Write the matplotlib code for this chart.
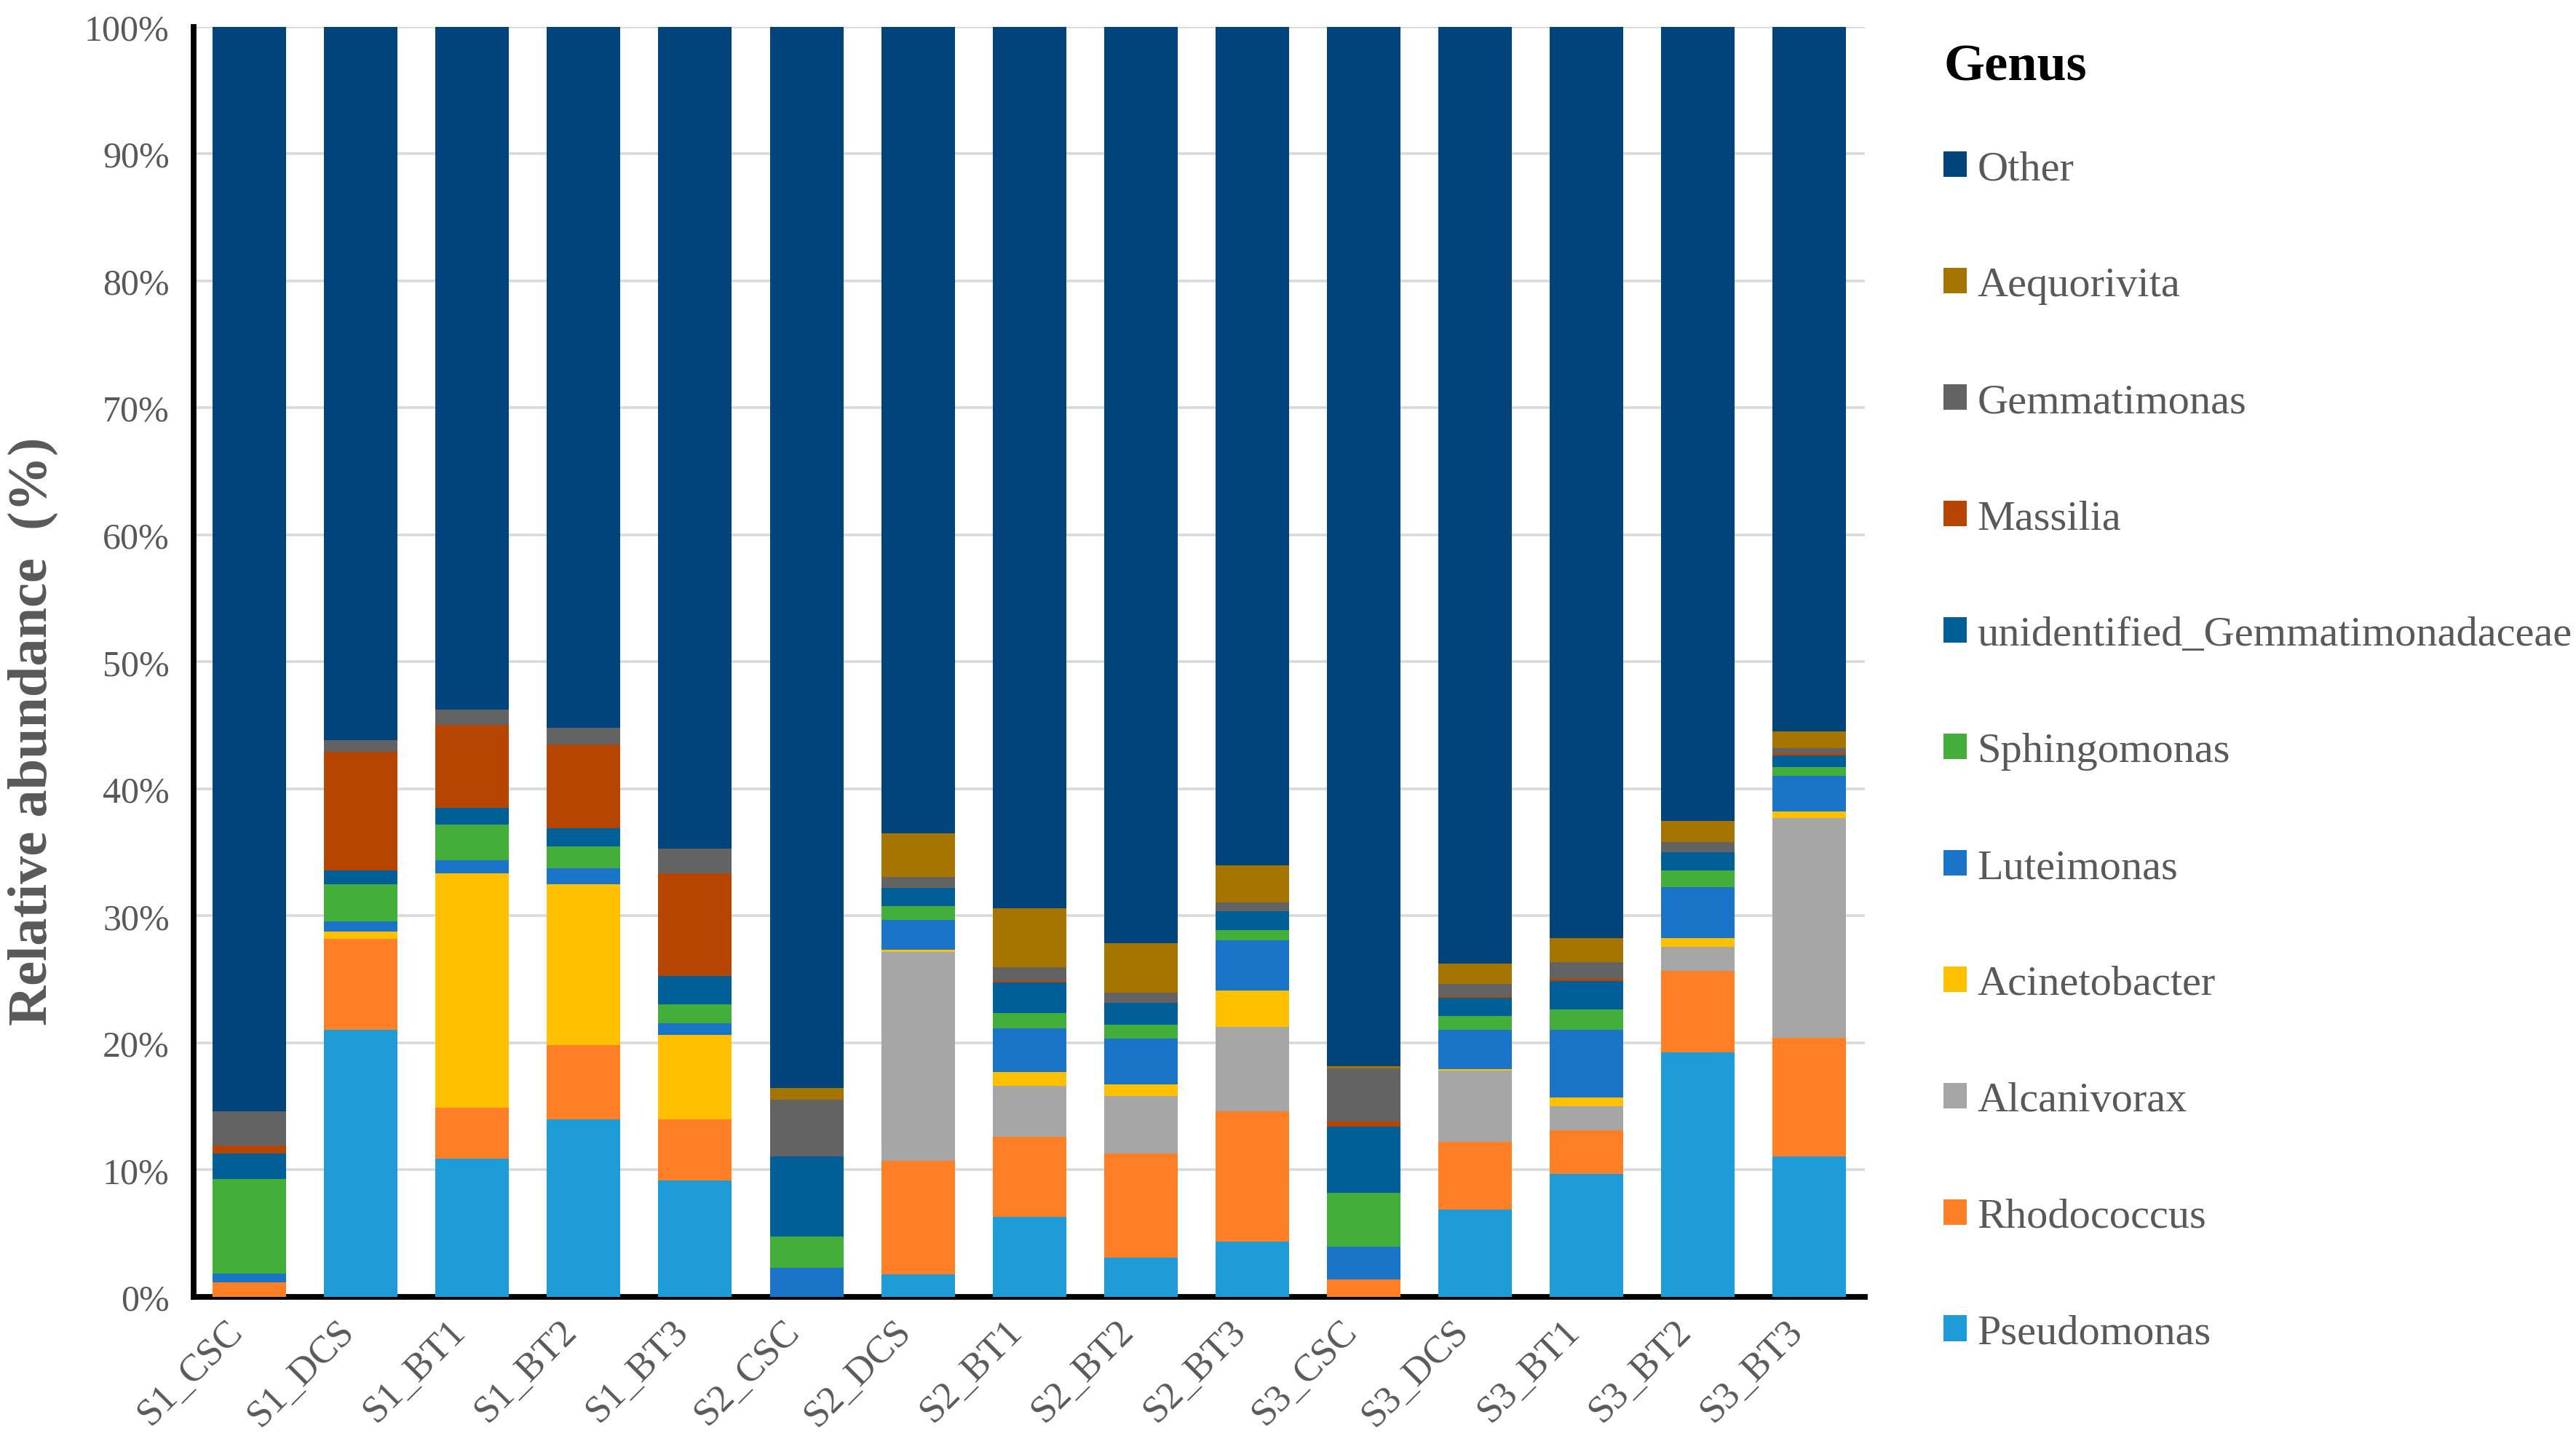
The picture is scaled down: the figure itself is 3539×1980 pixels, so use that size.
import matplotlib
matplotlib.use("Agg")
import matplotlib.pyplot as plt
import numpy as np

plt.rcParams['font.family'] = ['Liberation Serif', 'DejaVu Serif']

samples = ['S1_CSC', 'S1_DCS', 'S1_BT1', 'S1_BT2', 'S1_BT3',
           'S2_CSC', 'S2_DCS', 'S2_BT1', 'S2_BT2', 'S2_BT3',
           'S3_CSC', 'S3_DCS', 'S3_BT1', 'S3_BT2', 'S3_BT3']

# relative abundance (%) per genus, bottom to top
pseudomonas   = [0.0, 21.0, 10.87, 13.96, 9.15, 0.0, 1.78, 6.32, 3.10, 4.35, 0.0, 6.85, 9.68, 19.26, 11.03]
rhodococcus   = [1.15, 7.2, 4.01, 5.86, 4.81, 0.0, 8.95, 6.29, 8.16, 10.27, 1.38, 5.33, 3.46, 6.42, 9.35]
alcanivorax   = [0, 0, 0, 0, 0, 0, 16.43, 3.99, 4.54, 6.65, 0, 5.63, 1.84, 1.85, 17.32]
acinetobacter = [0, 0.55, 18.44, 12.68, 6.65, 0, 0.14, 1.08, 0.93, 2.83, 0, 0.14, 0.69, 0.69, 0.53]
luteimonas    = [0.66, 0.82, 1.06, 1.22, 0.92, 2.30, 2.40, 3.46, 3.62, 3.99, 2.57, 3.09, 5.34, 4.02, 2.80]
sphingomonas  = [7.48, 2.93, 2.79, 1.74, 1.49, 2.44, 1.05, 1.22, 1.05, 0.79, 4.25, 1.05, 1.61, 1.31, 0.69]
unid_gemm     = [1.97, 1.05, 1.32, 1.45, 2.27, 6.29, 1.45, 2.40, 1.75, 1.48, 5.20, 1.45, 2.24, 1.48, 0.92]
massilia      = [0.66, 9.35, 6.55, 6.55, 8.03, 0, 0, 0.13, 0, 0, 0.40, 0.13, 0.16, 0, 0.13]
gemmatimonas  = [2.70, 0.93, 1.19, 1.32, 1.98, 4.51, 0.83, 1.06, 0.82, 0.69, 4.18, 0.96, 1.32, 0.79, 0.40]
aequorivita   = [0, 0, 0, 0, 0, 0.92, 3.45, 4.67, 3.85, 2.90, 0.20, 1.58, 1.88, 1.62, 1.35]

genera = ['Pseudomonas', 'Rhodococcus', 'Alcanivorax', 'Acinetobacter', 'Luteimonas',
          'Sphingomonas', 'unidentified_Gemmatimonadaceae', 'Massilia', 'Gemmatimonas',
          'Aequorivita', 'Other']
colors = ['#1E9CD7', '#FE7F26', '#A6A6A6', '#FFC000', '#1A75C8', '#43AF3A',
          '#015F97', '#B54500', '#636363', '#A67500', '#01447C']

series = [pseudomonas, rhodococcus, alcanivorax, acinetobacter, luteimonas,
          sphingomonas, unid_gemm, massilia, gemmatimonas, aequorivita]
series = [np.array(s, dtype=float) for s in series]
other = 100 - np.sum(series, axis=0)
series.append(other)

fig = plt.figure(figsize=(3539/200, 1981/200), dpi=200)
ax = fig.add_axes([0.0752, 0.1, 0.724-0.0752, 0.981-0.1])

x = np.arange(len(samples))
bottom = np.zeros(len(samples))
handles = []
for vals, name, c in zip(series, genera, colors):
    h = ax.bar(x, vals, 0.66, bottom=bottom, color=c, label=name, zorder=3)
    handles.append(h)
    bottom += vals

ax.set_xlim(-0.5, len(samples)-0.5)
ax.set_ylim(0, 100)
ax.set_yticks(np.arange(0, 101, 10))
ax.set_yticklabels([f'{v}%' for v in range(0, 101, 10)])
ax.yaxis.grid(True, color='#D9D9D9', linewidth=1.3, zorder=0)
ax.set_axisbelow(True)

for s in ['top', 'right']:
    ax.spines[s].set_visible(False)
for s in ['left', 'bottom']:
    ax.spines[s].set_linewidth(2.8)
    ax.spines[s].set_color('black')

ax.tick_params(axis='both', length=0, colors='#595959')
ax.tick_params(axis='y', pad=12, labelsize=18)
ax.tick_params(axis='x', pad=8, labelsize=19)
ax.set_xticks(x)
ax.set_xticklabels(samples, rotation=45, ha='right')

ax.set_ylabel('Relative abundance  (%)', fontsize=27.5, fontweight='bold',
              color='#595959')
ax.yaxis.set_label_coords(-0.081, 0.446)

fig.text(2670/3539, 1-93/1981, 'Genus', fontsize=26, fontweight='bold',
         color='black', ha='left', va='center')
leg = fig.legend(handles[::-1], genera[::-1], loc='upper left',
                 bbox_to_anchor=(2617/3539, 1-155/1981), frameon=False,
                 fontsize=21, labelcolor='#595959',
                 handlelength=0.55, handleheight=0.55, handletextpad=0.25,
                 labelspacing=1.85)

fig.savefig('out.png', dpi=200)
